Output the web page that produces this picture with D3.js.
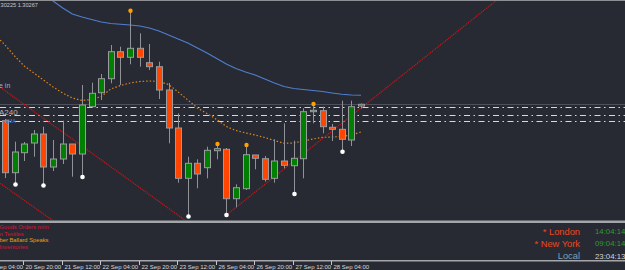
<!DOCTYPE html>
<html>
<head>
<meta charset="utf-8">
<script src="https://cdn.jsdelivr.net/npm/d3@7"></script>
<style>
  html, body { margin: 0; padding: 0; background: #272a33; overflow: hidden; }
  svg { display: block; }
  text { font-family: "Liberation Sans", Arial, sans-serif; }
</style>
</head>
<body>
<div id="chart"></div>
<script>
// H4 candles, 20 Sep 12:00 .. 28 Sep 12:00
const opens  = [1.30103, 1.29583, 1.29783, 1.29880, 1.29970, 1.29640, 1.29720, 1.29870, 1.29770, 1.30243, 1.30383, 1.30523, 1.30793, 1.30737, 1.30827, 1.30683, 1.30643, 1.30410, 1.30030, 1.29527, 1.29677, 1.29633, 1.29803, 1.29817, 1.29323, 1.29423, 1.29760, 1.29723, 1.29527, 1.29700, 1.29653, 1.29723, 1.30193, 1.30203, 1.30037, 1.30017, 1.29910, 1.30250];
const highs  = [1.30120, 1.29893, 1.29890, 1.30010, 1.30043, 1.29910, 1.30103, 1.29870, 1.30460, 1.30483, 1.30570, 1.30860, 1.30843, 1.31203, 1.30977, 1.30870, 1.30693, 1.30480, 1.30177, 1.29743, 1.29717, 1.29843, 1.29870, 1.29830, 1.29467, 1.29860, 1.29760, 1.29750, 1.29917, 1.30077, 1.29903, 1.30227, 1.30270, 1.30243, 1.30070, 1.30303, 1.30303, 1.30275];
const lows   = [1.29530, 1.29465, 1.29700, 1.29743, 1.29455, 1.29600, 1.29670, 1.29543, 1.29540, 1.30230, 1.30310, 1.30477, 1.30460, 1.30667, 1.30643, 1.30610, 1.30320, 1.29877, 1.29483, 1.29145, 1.29427, 1.29527, 1.29717, 1.29160, 1.29237, 1.29410, 1.29617, 1.29493, 1.29483, 1.29627, 1.29370, 1.29527, 1.30077, 1.29977, 1.29900, 1.29793, 1.29850, 1.30225];
const closes = [1.29583, 1.29790, 1.29870, 1.29970, 1.29640, 1.29720, 1.29870, 1.29770, 1.30260, 1.30377, 1.30523, 1.30793, 1.30737, 1.30827, 1.30737, 1.30643, 1.30410, 1.30030, 1.29527, 1.29677, 1.29570, 1.29807, 1.29823, 1.29323, 1.29433, 1.29763, 1.29727, 1.29517, 1.29700, 1.29657, 1.29727, 1.30193, 1.30207, 1.30043, 1.30017, 1.29917, 1.30243, 1.30267];

// moving averages (first bar index given separately)
const blueStart = 3;
const blueMA = [1.31410, 1.31350, 1.31300, 1.31230, 1.31170, 1.31140, 1.31115, 1.31090, 1.31075, 1.31067, 1.31060, 1.31050, 1.31030, 1.31000, 1.30960, 1.30920, 1.30880, 1.30830, 1.30780, 1.30725, 1.30670, 1.30625, 1.30590, 1.30560, 1.30520, 1.30480, 1.30445, 1.30425, 1.30415, 1.30405, 1.30395, 1.30380, 1.30367, 1.30360, 1.30357];
const orangeStart = -1;
const orangeMA = [1.30960, 1.30860, 1.30750, 1.30650, 1.30580, 1.30510, 1.30440, 1.30380, 1.30330, 1.30305, 1.30315, 1.30345, 1.30420, 1.30455, 1.30480, 1.30495, 1.30500, 1.30495, 1.30465, 1.30390, 1.30310, 1.30230, 1.30175, 1.30115, 1.30045, 1.30005, 1.29980, 1.29960, 1.29935, 1.29905, 1.29877, 1.29880, 1.29900, 1.29920, 1.29937, 1.29940, 1.29945, 1.29960, 1.29990];

// fractal markers (bar indices)
const upFractals = [13, 22, 25, 32];
const downFractals = [1, 4, 8, 19, 23, 30, 35];

// trend lines as [bar index, price] anchor pairs
const trendUpper = [[0, 1.30404], [18, 1.29157]];
const trendLower = [[0, 1.29443], [5, 1.29102]];
const trendRise  = [[23, 1.29160], [37, 1.30230]];

const levels = [1.30240, 1.30160, 1.30095];
const bidPrice = 1.30267;

const timeLabels = ['20 Sep 04:00', '20 Sep 20:00', '21 Sep 12:00', '22 Sep 04:00', '22 Sep 20:00',
  '23 Sep 12:00', '26 Sep 04:00', '26 Sep 20:00', '27 Sep 12:00', '28 Sep 04:00'];
const timeLabelBars = [-2, 2, 6, 10, 14, 18, 22, 26, 30, 34];

const newsTexts = ['Goods Orders m/m', 'n Textiles', 'ber Ballard Speaks', 'Inventories'];
const newsColors = ['#d8143a', '#d8143a', '#e8a010', '#d8143a'];

const clockNames = ['* London', '* New York', 'Local'];
const clockTimes = ['14:04:14', '09:04:14', '23:04:13'];

const width = 625, height = 270;
const mainBottom = 220;

const svg = d3.select('#chart').append('svg')
  .attr('width', width).attr('height', height);

svg.append('rect').attr('width', width).attr('height', height).attr('fill', '#272a33');

const x = d3.scaleLinear().domain([0, 37]).range([5, 361]);
const y = d3.scaleLinear().domain([1.2911, 1.3131]).range([mainBottom, 0]);

svg.append('clipPath').attr('id', 'main-clip')
  .append('rect').attr('x', 0).attr('y', 1).attr('width', width).attr('height', mainBottom - 1);

const main = svg.append('g').attr('clip-path', 'url(#main-clip)');

// bid line
main.append('line')
  .attr('x1', 0).attr('x2', width)
  .attr('y1', Math.round(y(bidPrice)) + 0.5).attr('y2', Math.round(y(bidPrice)) + 0.5)
  .attr('stroke', '#4e515c').attr('stroke-width', 1);

// dash-dot levels
main.selectAll('line.level').data(levels).join('line')
  .attr('class', 'level')
  .attr('x1', 0).attr('x2', width)
  .attr('y1', (d) => Math.round(y(d)) + 0.5).attr('y2', (d) => Math.round(y(d)) + 0.5)
  .attr('stroke', '#d8d8dc').attr('stroke-width', 1)
  .attr('stroke-dasharray', '6,3.5,1.5,3.5');

// moving averages
const maLine = (start) => d3.line()
  .x((d, i) => x(i + start))
  .y((d) => y(d));

main.append('path')
  .attr('d', maLine(blueStart)(blueMA))
  .attr('fill', 'none').attr('stroke', '#4f7fd0').attr('stroke-width', 1.1);

main.append('path')
  .attr('d', maLine(orangeStart)(orangeMA))
  .attr('fill', 'none').attr('stroke', '#e0861c').attr('stroke-width', 1.2)
  .attr('stroke-dasharray', '1.5,2');

// trend lines, extended in pixel space
function extendLine(pair, x0, x1) {
  const ax = x(pair[0][0]), ay = y(pair[0][1]);
  const bx = x(pair[1][0]), by = y(pair[1][1]);
  const k = (by - ay) / (bx - ax);
  return [[x0, ay + k * (x0 - ax)], [x1, ay + k * (x1 - ax)]];
}

const trends = [
  extendLine(trendUpper, -10, 320),
  extendLine(trendLower, -10, 120),
  extendLine(trendRise, x(trendRise[0][0]), width)
];

main.selectAll('path.trend').data(trends).join('path')
  .attr('class', 'trend')
  .attr('d', d3.line())
  .attr('fill', 'none').attr('stroke', '#e01010').attr('stroke-width', 1.1)
  .attr('stroke-dasharray', '1.2,0.9');

// candles
const bars = d3.range(opens.length);
const candle = main.selectAll('g.candle').data(bars).join('g').attr('class', 'candle');

candle.append('line')
  .attr('x1', (i) => Math.round(x(i)) + 0.5).attr('x2', (i) => Math.round(x(i)) + 0.5)
  .attr('y1', (i) => y(highs[i])).attr('y2', (i) => y(lows[i]))
  .attr('stroke', '#8f9296').attr('stroke-width', 1);

candle.append('rect')
  .attr('x', (i) => Math.round(x(i)) - 2.5)
  .attr('width', 6)
  .attr('y', (i) => y(Math.max(opens[i], closes[i])))
  .attr('height', (i) => Math.max(1, Math.abs(y(opens[i]) - y(closes[i]))))
  .attr('fill', (i) => closes[i] >= opens[i] ? '#008000' : '#ff4500')
  .attr('stroke', '#9a9ca0').attr('stroke-width', 1);

// fractals
main.selectAll('circle.up').data(upFractals).join('circle')
  .attr('class', 'up')
  .attr('cx', (i) => Math.round(x(i)) + 0.5).attr('cy', (i) => y(highs[i]))
  .attr('r', 2.2).attr('fill', '#ffa000');

main.selectAll('circle.down').data(downFractals).join('circle')
  .attr('class', 'down')
  .attr('cx', (i) => Math.round(x(i)) + 0.5).attr('cy', (i) => y(lows[i]))
  .attr('r', 2.3).attr('fill', '#ffffff');

// labels in the main window
svg.append('text').attr('x', -1).attr('y', 6.7)
  .attr('font-size', 5.6).attr('fill', '#c8c8cc').text('.30225 1.30267');
svg.append('text').attr('x', -1).attr('y', 87.5)
  .attr('font-size', 7).attr('fill', '#9fb0c8').text('e in');
svg.append('text').attr('x', -1).attr('y', 114.5)
  .attr('font-size', 8).attr('fill', '#b4b4b8').text('A240');
svg.append('text').attr('x', 5).attr('y', 123)
  .attr('font-size', 5).attr('fill', '#2f86e8').text('EMA');

// frame lines
svg.append('line').attr('x1', 0).attr('x2', width).attr('y1', 0.5).attr('y2', 0.5)
  .attr('stroke', '#8e9096').attr('stroke-width', 1);
svg.append('rect').attr('x', 0).attr('y', 220.5).attr('width', width).attr('height', 2.5)
  .attr('fill', '#a4a6aa');
svg.append('rect').attr('x', 0).attr('y', 260).attr('width', width).attr('height', 1.5)
  .attr('fill', '#a4a6aa');

// sub window: news lines
svg.selectAll('text.news').data(newsTexts).join('text')
  .attr('class', 'news')
  .attr('x', -0.5).attr('y', (d, i) => 228.8 + i * 6.7)
  .attr('font-size', 5.8)
  .attr('fill', (d, i) => newsColors[i])
  .text((d) => d);

// sub window: clocks
const clockY = [234.6, 246.6, 259];
svg.selectAll('text.clock-name').data(clockNames).join('text')
  .attr('class', 'clock-name')
  .attr('x', 580).attr('y', (d, i) => clockY[i])
  .attr('text-anchor', 'end').attr('font-size', 9.3)
  .attr('fill', (d, i) => i < 2 ? '#f0461c' : '#7aa2bc')
  .text((d) => d);

svg.selectAll('text.clock-time').data(clockTimes).join('text')
  .attr('class', 'clock-time')
  .attr('x', 595).attr('y', (d, i) => clockY[i] - 0.3)
  .attr('font-size', 7.8)
  .attr('fill', (d, i) => i < 2 ? '#2e9a2e' : '#d4d4d8')
  .text((d) => d);

// time axis
const tick = svg.selectAll('g.time').data(timeLabelBars).join('g')
  .attr('class', 'time')
  .attr('transform', (d) => `translate(${Math.round(x(d)) - 0.5},0)`);

tick.append('line')
  .attr('y1', 261).attr('y2', 265)
  .attr('stroke', '#c8c8cc').attr('stroke-width', 1);

tick.append('text')
  .attr('x', 2).attr('y', 268.8)
  .attr('font-size', 6).attr('fill', '#d8d8dc')
  .text((d, i) => timeLabels[i]);
</script>
</body>
</html>
